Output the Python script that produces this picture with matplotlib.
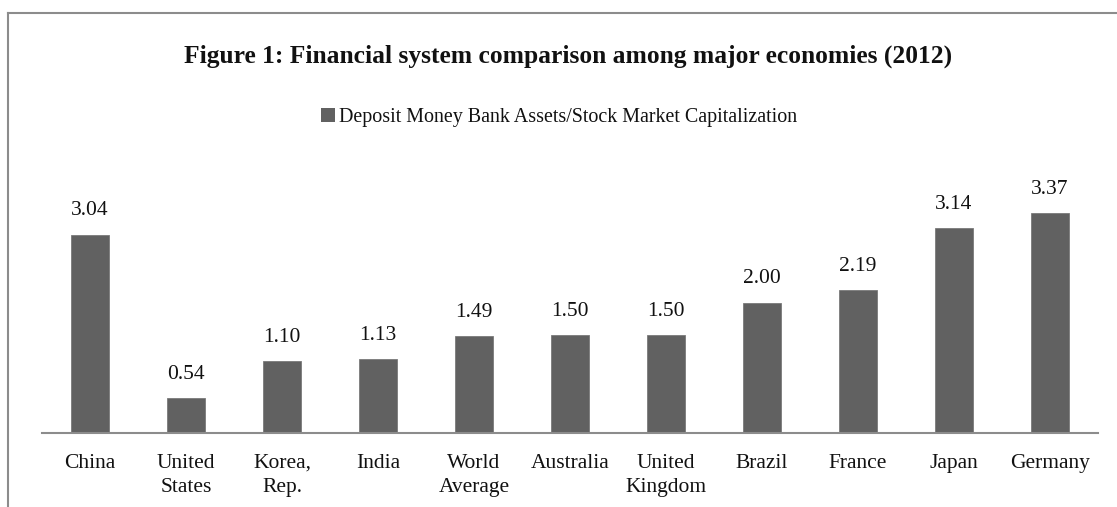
import numpy as np
import matplotlib
matplotlib.use('Agg')
import matplotlib.pyplot as plt
from matplotlib.lines import Line2D
from matplotlib.patches import Patch

plt.rcParams['font.family'] = ['Liberation Serif', 'DejaVu Serif']

countries = ["China", "United\nStates", "Korea,\nRep.", "India", "World\nAverage",
             "Australia", "United\nKingdom", "Brazil", "France", "Japan", "Germany"]
ratios = [3.04, 0.54, 1.10, 1.13, 1.49, 1.50, 1.50, 2.00, 2.19, 3.14, 3.37]

bar_color = '#616161'
line_color = '#8c8c8c'

fig = plt.figure(figsize=(11.17, 5.07), dpi=100)
ax = fig.add_axes([42 / 1117, 74 / 507, 1056 / 1117, 261 / 507])

x = np.arange(len(countries))
ax.bar(x, ratios, width=0.4, color=bar_color, edgecolor='#7a7a7a', linewidth=0.6)

for xi, v in zip(x, ratios):
    ax.annotate(f"{v:.2f}", (xi, v), xytext=(0, 13.8), textcoords='offset points',
                ha='center', va='baseline', fontsize=15.5, color='#111111')

ax.set_xlim(-0.5, len(countries) - 0.5)
ax.set_ylim(0, 4)
ax.set_xticks(x)
ax.set_xticklabels(countries, fontsize=15.5, color='#111111', linespacing=1.38)
ax.tick_params(axis='x', length=0, pad=15)
ax.set_yticks([])
for s in ['top', 'right', 'left']:
    ax.spines[s].set_visible(False)
ax.spines['bottom'].set_color(line_color)
ax.spines['bottom'].set_linewidth(1.5)

fig.text(568 / 1117, 1 - 56 / 507, "Figure 1: Financial system comparison among major economies (2012)",
         ha='center', va='center', fontsize=18.4, fontweight='bold', color='#111111')

handle = Patch(facecolor=bar_color, edgecolor='none')
fig.legend([handle], ["Deposit Money Bank Assets/Stock Market Capitalization"],
           loc='center', bbox_to_anchor=(559 / 1117, 1 - 117 / 507), frameon=False,
           fontsize=14.4, handlelength=0.7, handleheight=0.7, handletextpad=0.2,
           borderpad=0, labelcolor='#111111')

# frame lines (top and left only, as in the source crop)
fig.add_artist(Line2D([8 / 1117, 1], [1 - 13 / 507, 1 - 13 / 507], transform=fig.transFigure,
                      color=line_color, linewidth=1.5))
fig.add_artist(Line2D([8 / 1117, 8 / 1117], [0, 1 - 13 / 507], transform=fig.transFigure,
                      color=line_color, linewidth=1.5))

fig.savefig("out.png", dpi=100, facecolor='white')
